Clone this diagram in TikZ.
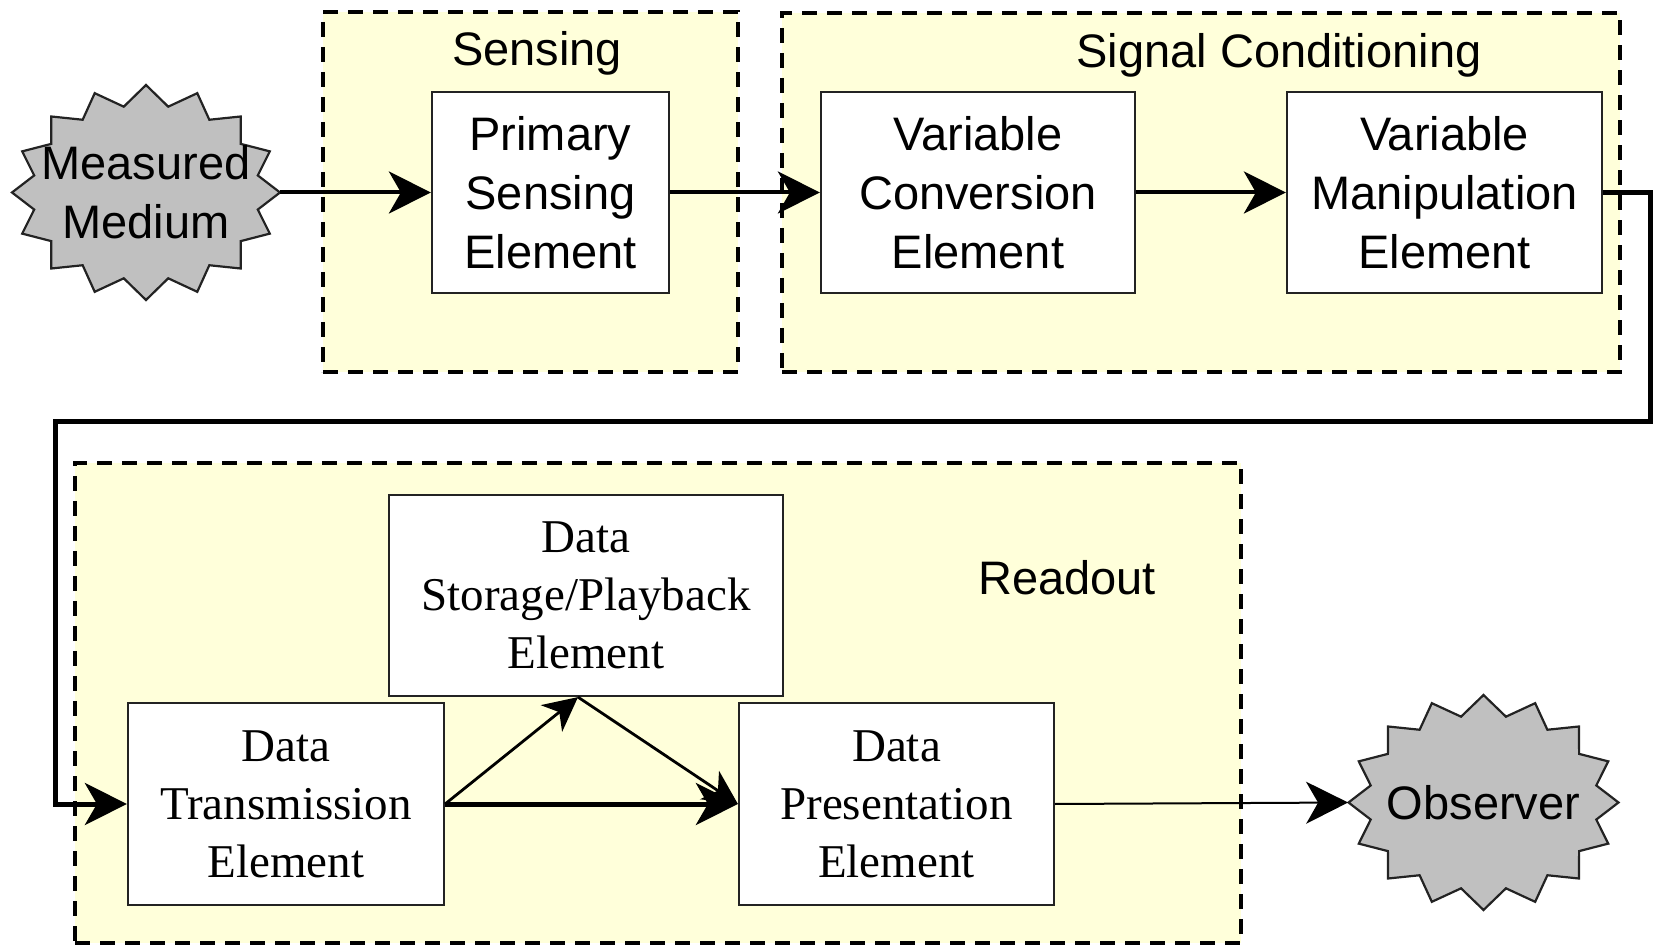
\documentclass[tikz,border=0pt]{standalone}
\usepackage{fontspec}
\setmainfont{Liberation Serif}
\setsansfont{Liberation Sans}
\usetikzlibrary{arrows.meta}

\definecolor{groupfill}{RGB}{255,255,218}
\definecolor{burstgray}{RGB}{192,192,192}
\definecolor{edgegray}{RGB}{35,35,35}

% 16-point star outline around a centre: #1 centre, #2/#3 outer half axes (pt), #4 point depth (pt)
\newcommand\drawburst[4]{%
  \draw[burstline] ([shift={(0:#2pt and #3pt)}]#1)
    \foreach \k [evaluate=\k as \rx using {mod(\k,2)==0 ? #2 : #2-#4},
                 evaluate=\k as \ry using {mod(\k,2)==0 ? #3 : #3-#4}] in {1,...,31}
      { -- ([shift={(\k*11.25:\rx pt and \ry pt)}]#1) } -- cycle;}

\begin{document}
\begin{tikzpicture}[x=0.5pt,y=-0.5pt,
  group/.style={draw=black, fill=groupfill, dash pattern=on 7.5pt off 5pt,
    line width=1.7pt, inner sep=0},
  sanstext/.style={font=\sffamily\fontsize{23.5}{29.5}\selectfont},
  seriftext/.style={font=\rmfamily\fontsize{23.5}{29}\selectfont},
  box/.style={draw=edgegray, fill=white, line width=1.1pt, inner sep=0,
    align=center, minimum height=100.5pt},
  burstline/.style={draw=edgegray, fill=burstgray, line width=1.1pt, line join=miter},
  burst/.style={inner sep=0, align=center, sanstext},
  flow/.style={-{Stealth[length=21pt,width=21pt,inset=6pt]}, line width=2pt},
  branch/.style={-{Stealth[length=17pt,width=17pt,inset=5pt]}, line width=1.4pt},
  outflow/.style={-{Stealth[length=21pt,width=21pt,inset=6pt]}, line width=1pt},
  loopback/.style={-{Stealth[length=21pt,width=21pt,inset=6pt]}, line width=2.5pt,
    line join=miter}
]
\useasboundingbox (0,0) rectangle (1656,946);

% stage groups
\node[group, minimum width=207.5pt, minimum height=180pt] (gsense) at (530.5,192) {};
\node[group, minimum width=419pt, minimum height=179.5pt] (gcond) at (1201,192.5) {};
\node[group, minimum width=583pt, minimum height=240pt] (gread) at (658,703) {};

\node[sanstext] (lsense) at (537,53) {Sensing};
\node[sanstext] (lcond) at (1279,55) {Signal Conditioning};
\node[sanstext] (lread) at (1067,578) {Readout};

% source and sink
\coordinate (mmc) at (146,192.5);
\coordinate (obsc) at (1483.5,802.5);
\drawburst{mmc}{67}{53.75}{10}
\drawburst{obsc}{67.5}{53.75}{10}
\node[burst, minimum width=134pt, minimum height=107.5pt] (mm) at (mmc) {Measured\\Medium};
\node[burst, minimum width=135pt, minimum height=107.5pt] (obs) at (obsc) {Observer};

% top row
\node[box, sanstext, minimum width=118.5pt] (pse) at (550.5,192.5) {Primary\\Sensing\\Element};
\node[box, sanstext, minimum width=157pt] (vce) at (978,192.5) {Variable\\Conversion\\Element};
\node[box, sanstext, minimum width=157.5pt] (vme) at (1444.5,192.5) {Variable\\Manipulation\\Element};

% readout row
\node[box, seriftext, minimum width=197pt] (dsp) at (586,595.5) {Data\\Storage/Playback\\Element};
\node[box, seriftext, minimum width=158pt, minimum height=101pt] (dte) at (286,804) {Data\\Transmission\\Element};
\node[box, seriftext, minimum width=157.5pt, minimum height=101pt] (dpe) at (896.5,804) {Data\\Presentation\\Element};

% connectors
\draw[flow] (mm.east) -- (pse.west);
\draw[flow] (pse.east) -- (vce.west);
\draw[flow] (vce.east) -- (vme.west);

\coordinate (fbR) at (1650,422);
\coordinate (fbL) at (55,422);
\draw[loopback] (vme.east) -| (fbR) -- (fbL) |- (dte.west);

\draw[branch] (dte.east) -- ([xshift=-4pt]dsp.south);
\draw[branch] ([xshift=-4pt]dsp.south) -- (dpe.west);
\draw[flow, line width=2.5pt] (dte.east) -- (dpe.west);
\draw[outflow] (dpe.east) -- (obs.west);
\end{tikzpicture}
\end{document}
